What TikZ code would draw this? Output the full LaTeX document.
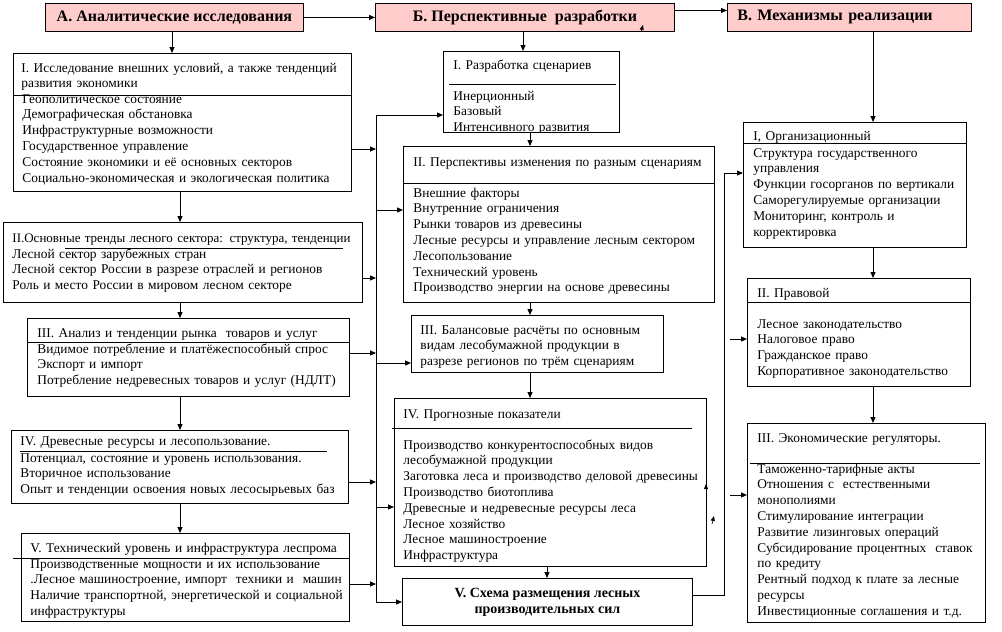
\documentclass[tikz,border=0pt]{standalone}
\usepackage{fontspec}
\setmainfont{Liberation Serif}
\usepackage{xcolor}
\usepackage{tikz}
\usetikzlibrary{arrows.meta, calc}
\definecolor{hdrpink}{HTML}{FFCCCC}
\tikzset{
  hdr/.style     = {rectangle, draw, fill=hdrpink, anchor=north west,
                    inner sep=0pt, minimum height=28pt,
                    font=\fontsize{16}{18}\selectfont\bfseries},
  panel/.style   = {rectangle, draw, anchor=north west, inner sep=0pt},
  txt/.style     = {anchor=base west, text width=340pt, align=left,
                    inner sep=0pt, font=\fontsize{13.4}{15.8}\selectfont},
  arr/.style     = {-{Triangle[length=6pt,width=5pt]}, line width=0.9pt},
  stray/.style   = {-{Triangle[length=5pt,width=4pt]}, line width=0.6pt},
}

\begin{document}
\begin{tikzpicture}[x=1pt, y=-1pt, line width=0.9pt]
\path[use as bounding box, fill=white] (0,0) rectangle (1002,632);

% ── Headers ─────────────────────────────────────────────
\node[hdr, minimum width=258pt] (hA) at (45,3) {А. Аналитические исследования};
\node[hdr, minimum width=299pt] (hB) at (375,3) {Б. Перспективные\ \ разработки};
\node[hdr, minimum width=244pt, inner xsep=10pt, text width=224pt, align=left]
      (hC) at (727,3) {В. Механизмы реализации};

% ── Column A ────────────────────────────────────────────
\node[panel, minimum width=338pt, minimum height=138pt] (lI) at (13,53) {};
\node[txt] at (21,72) {I. Исследование внешних условий, а также тенденций\\развития экономики};
\draw (lI.west |- 0,95) -- (lI.east |- 0,95);
\node[txt] at (22,103) {Геополитическое состояние\\Демографическая обстановка\\
      Инфраструктурные возможности\\Государственное управление\\
      Состояние экономики и её основных секторов\\
      Социально-экономическая и экологическая политика};

\node[panel, minimum width=359pt, minimum height=80pt] (lII) at (3,222) {};
\node[txt, text width=355pt, font=\fontsize{13}{15.8}\selectfont] at (12,242)
      {II.Основные тренды лесного сектора: структура, тенденции};
\draw (65,248) -- (343,248);
\node[txt] at (12,258) {Лесной сектор зарубежных стран\\
      Лесной сектор России в разрезе отраслей и регионов\\
      Роль и место России в мировом лесном секторе};

\node[panel, minimum width=322pt, minimum height=78pt] (lIII) at (27,318) {};
\node[txt] at (37,337) {III. Анализ и тенденции рынка\ \ товаров и услуг};
\draw (lIII.west |- 0,342) -- (lIII.east |- 0,342);
\node[txt] at (37,353) {Видимое потребление и платёжеспособный спрос\\Экспорт и импорт\\
      Потребление недревесных товаров и услуг (НДЛТ)};

\node[panel, minimum width=337pt, minimum height=73pt] (lIV) at (11,430) {};
\node[txt] at (20,445) {IV. Древесные ресурсы и лесопользование.};
\draw (20,451) -- (327,451);
\node[txt] at (20,462) {Потенциал, состояние и уровень использования.\\
      Вторичное использование\\Опыт и тенденции освоения новых лесосырьевых баз};

\node[panel, minimum width=328pt, minimum height=88pt] (lV) at (21,533) {};
\node[txt] at (30,552) {V. Технический уровень и инфраструктура леспрома};
\draw (13,558) -- (lV.east |- 0,558);
\node[txt] at (30,568) {Производственные мощности и их использование\\
      .Лесное машиностроение, импорт\ \ техники и\ \ машин\\
      Наличие транспортной, энергетической и социальной\\инфраструктуры};

% ── Column B ────────────────────────────────────────────
\node[panel, minimum width=176pt, minimum height=81pt] (mI) at (443,51) {};
\node[txt] at (453,69) {I. Разработка сценариев};
\draw (449,84) -- (616,84);
\begin{scope}
  \clip (mI.north west) rectangle (mI.south east);
  \node[txt] at (453,100) {Инерционный\\Базовый\\Интенсивного развития};
\end{scope}

\node[panel, minimum width=311pt, minimum height=156pt] (mII) at (403,146) {};
\node[txt] at (413,166) {II. Перспективы изменения по разным сценариям};
\draw (mII.west |- 0,183) -- (mII.east |- 0,183);
\node[txt] at (413,197) {Внешние факторы\\Внутренние ограничения\\
      Рынки товаров из древесины\\Лесные ресурсы и управление лесным сектором\\
      Лесопользование\\Технический уровень\\Производство энергии на основе древесины};

\node[panel, minimum width=252pt, minimum height=57pt] (mIII) at (411,315) {};
\node[txt] at (420,334) {III. Балансовые расчёты по основным\\
      видам лесобумажной продукции в\\разрезе регионов по трём сценариям};

\node[panel, minimum width=312pt, minimum height=168pt] (mIV) at (394,398) {};
\node[txt] at (403,418) {IV. Прогнозные показатели};
\draw (392,428) -- (692,428);
\node[txt] at (403,449) {Производство конкурентоспособных видов\\лесобумажной продукции\\
      Заготовка леса и производство деловой древесины\\Производство биотоплива\\
      Древесные и недревесные ресурсы леса\\Лесное хозяйство\\
      Лесное машиностроение\\Инфраструктура};

\node[panel, minimum width=290pt, minimum height=47pt, align=center,
      font=\fontsize{14}{16}\selectfont\bfseries] (mV) at (402,578)
      {V. Схема размещения лесных\\производительных сил};

% ── Column C ────────────────────────────────────────────
\node[panel, minimum width=223pt, minimum height=125pt] (rI) at (743,122) {};
\node[txt] at (753,140) {I, Организационный};
\draw (rI.west |- 0,143) -- (rI.east |- 0,143);
\node[txt] at (753,157) {Структура государственного\\управления\\
      Функции госорганов по вертикали\\Саморегулируемые организации\\
      Мониторинг, контроль и\\корректировка};

\node[panel, minimum width=223pt, minimum height=108pt] (rII) at (747,278) {};
\node[txt] at (757,297) {II. Правовой};
\draw (rII.west |- 0,302) -- (rII.east |- 0,302);
\node[txt] at (757,328) {Лесное законодательство\\Налоговое право\\
      Гражданское право\\Корпоративное законодательство};

\node[panel, minimum width=238pt, minimum height=199pt] (rIII) at (747,423) {};
\node[txt] at (757,442) {III. Экономические регуляторы.};
\draw (750,463) -- (980,463);
\node[txt] at (757,473) {Таможенно-тарифные акты\\Отношения с\ \ естественными\\
      монополиями\\Стимулирование интеграции\\Развитие лизинговых операций\\
      Субсидирование процентных\ \ ставок\\по кредиту\\
      Рентный подход к плате за лесные\\ресурсы\\Инвестиционные соглашения и т.д.};

% ── Arrows: headers and columns ─────────────────────────
\draw[arr] (hA) -- (hB);
\draw[arr] ([yshift=7pt]hB.east) -- ([yshift=7pt]hC.west);

\draw[arr] (hA.south -| 172,0) -- (lI.north -| 172,0);
\draw[arr] (lI.south -| 180,0) -- (lII.north -| 180,0);
\draw[arr] (lII.south -| 180,0) -- (lIII.north -| 180,0);
\draw[arr] (lIII.south -| 180,0) -- (lIV.north -| 180,0);
\draw[arr] (lIV.south -| 180,0) -- (lV.north -| 180,0);

\draw[arr] (hB.south -| 523,0) -- (mI.north -| 523,0);
\draw[arr] (mI.south -| 530,0) -- (mII.north -| 530,0);
\draw[arr] (mII.south -| 530,0) -- (mIII.north -| 530,0);
\draw[arr] (mIII.south -| 530,0) -- (mIV.north -| 530,0);
\draw[arr] (mIV.south -| 547,0) -- (mV.north -| 547,0);

\draw[arr] (hC.south -| 873,0) -- (rI.north -| 873,0);
\draw[arr] (rI.south -| 873,0) -- (rII.north -| 873,0);
\draw[arr] (rII.south -| 873,0) -- (rIII.north -| 873,0);

% ── Arrows: left bus ────────────────────────────────────
\coordinate (busT) at (376,115);
\coordinate (busB) at (376,602);
\draw (busT) -- (busB);
\draw[arr] (busT) -- (busT -| mI.west);
\draw[arr] (lI.east |- 0,149) -- (busT |- 0,149);
\draw[arr] (busT |- 0,210) -- (mII.west |- 0,210);
\draw[arr] (lII.east |- 0,278) -- (busT |- 0,278);
\draw[arr] (lIII.east |- 0,353) -- (busT |- 0,353);
\draw[arr] (busT |- 0,363) -- (mIII.west |- 0,363);
\draw[arr] (lIV.east |- 0,482) -- (busT |- 0,482);
\draw[arr] (busT |- 0,507) -- (mIV.west |- 0,507);
\draw[arr] (lV.east |- 0,584) -- (busT |- 0,584);
\draw[arr] (busB) -- (busB -| mV.west);

% ── Arrows: right bus ───────────────────────────────────
\coordinate (rbusT) at (724,173);
\coordinate (rbusB) at (724,595);
\coordinate (rjII) at (730,339);
\coordinate (rjIII) at (730,495);
\draw[arr] (mV.east |- rbusB) -- (rbusB) -- (rbusT) -- (rbusT -| rI.west);
\draw[arr] (rjII) -- (rjII -| rII.west);
\draw[arr] (rjIII) -- (rjIII -| rIII.west);

% stray heads
\draw[stray] (641,32) -- (643,25);
\draw[stray] (706,492) -- (706,484);
\draw[stray] (712,524) -- (714,516);

\end{tikzpicture}
\end{document}
